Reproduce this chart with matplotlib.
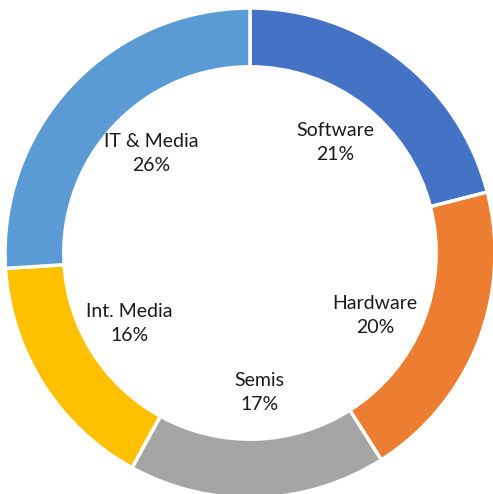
import matplotlib
matplotlib.use("Agg")
import matplotlib.pyplot as plt
import numpy as np

labels = ["Software", "Hardware", "Semis", "Int. Media", "IT & Media"]
shares = [21, 20, 17, 16, 26]
colors = ["#4472C4", "#ED7D31", "#A5A5A5", "#FFC000", "#5B9BD5"]


def plot_donut():
    """Draws the sector donut chart"""
    fig = plt.figure(figsize=(4.93, 4.94), dpi=100)
    ax = fig.add_axes([0, 0, 1, 1])
    wedges, _ = ax.pie(shares, colors=colors, startangle=90, counterclock=False,
                       radius=1.0,
                       wedgeprops=dict(width=0.24, edgecolor="white", linewidth=2.5))
    # label angles nudged a little, like the hand-placed labels in the original
    nudge = [0, -5, 2, -2, -2]
    for w, name, val, dn in zip(wedges, labels, shares, nudge):
        ang = np.deg2rad((w.theta1 + w.theta2) / 2 + dn)
        r = 0.57
        ax.text(r * np.cos(ang), r * np.sin(ang), f"{name}\n{val}%",
                ha="center", va="center", fontsize=14, family="Lato",
                color="#1a1a1a", linespacing=1.5)
    ax.set_xlim(-1.0204, 0.9918)
    ax.set_ylim(-0.9837, 1.0327)
    ax.set_aspect("auto")
    ax.axis("off")
    fig.savefig("out.png", dpi=100)


def main():
    plot_donut()


if __name__ == "__main__":
    main()
